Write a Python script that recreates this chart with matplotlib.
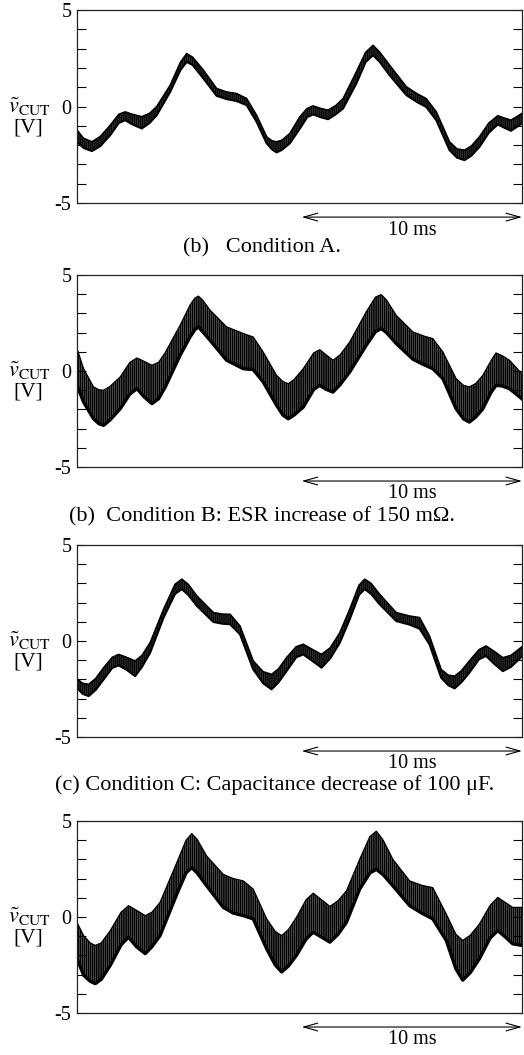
import matplotlib
matplotlib.use("Agg")
import matplotlib.pyplot as plt

plt.rcParams['font.family'] = ['Liberation Serif', 'DejaVu Serif']
plt.rcParams['mathtext.fontset'] = 'stix'

# ---------------- data (time in ms, voltage in V; upper / lower ripple envelope) ----------------
tA = [0.00, 0.30, 0.68, 1.06, 1.51, 1.90, 2.19, 2.50, 2.94, 3.30, 3.62, 4.23, 4.70, 4.98, 5.25,
      5.74, 6.34, 6.80, 7.25, 7.70, 8.15, 8.61, 8.85, 9.06, 9.30, 9.66, 10.12, 10.45, 10.72, 11.05,
      11.40, 11.75, 12.08, 12.68, 13.10, 13.44, 13.75, 14.19, 14.95, 15.45, 15.85, 16.31, 16.91,
      17.25, 17.59, 17.90, 18.27, 18.70, 19.10, 19.40, 19.70, 20.20]
upA = [-1.22, -1.65, -1.83, -1.55, -0.97, -0.40, -0.28, -0.40, -0.53, -0.35, 0.00, 1.10, 2.30, 2.74,
       2.55, 1.88, 0.93, 0.75, 0.67, 0.41, -0.45, -1.57, -1.78, -1.83, -1.75, -1.40, -0.53, -0.10,
       0.03, -0.10, -0.19, 0.05, 0.41, 1.79, 2.80, 3.17, 2.80, 2.14, 1.02, 0.65, 0.41, -0.28, -1.83,
       -2.20, -2.26, -2.05, -1.57, -0.85, -0.48, -0.60, -0.71, -0.36]
loA = [-1.83, -2.15, -2.31, -2.05, -1.48, -0.85, -0.71, -0.92, -1.14, -0.85, -0.45, 0.76, 1.90, 2.31,
       2.15, 1.45, 0.55, 0.38, 0.28, 0.07, -0.79, -1.91, -2.22, -2.38, -2.25, -1.91, -1.14, -0.55,
       -0.41, -0.55, -0.66, -0.40, -0.10, 1.19, 2.30, 2.66, 2.30, 1.62, 0.59, 0.22, -0.02, -0.71,
       -2.26, -2.65, -2.78, -2.55, -2.09, -1.35, -0.93, -1.10, -1.26, -0.88]

tB = [0.00, 0.30, 0.75, 1.00, 1.21, 1.50, 1.96, 2.40, 2.72, 3.05, 3.40, 3.70, 4.00, 4.68, 5.13,
      5.35, 5.51, 5.70, 6.04, 6.79, 7.55, 8.00, 8.45, 9.06, 9.35, 9.59, 9.85, 10.27, 10.75, 11.02,
      11.30, 11.62, 11.95, 12.38, 13.13, 13.55, 13.81, 14.05, 14.49, 15.25, 15.80, 16.15, 16.61,
      17.21, 17.55, 17.81, 18.10, 18.42, 18.80, 19.02, 19.30, 19.63, 20.20]
upB = [1.17, 0.12, -0.83, -0.98, -1.00, -0.80, -0.31, 0.45, 0.68, 0.50, 0.30, 0.45, 0.95, 2.38, 3.43,
       3.80, 3.90, 3.70, 3.17, 2.30, 1.95, 1.77, 0.99, -0.23, -0.55, -0.66, -0.45, 0.12, 0.95, 1.11,
       0.85, 0.56, 0.85, 1.51, 3.08, 3.85, 3.98, 3.70, 2.90, 2.03, 1.80, 1.69, 0.99, -0.40, -0.75,
       -0.83, -0.65, -0.23, 0.55, 0.94, 0.80, 0.56, -0.15]
loB = [-0.75, -1.62, -2.49, -2.75, -2.83, -2.55, -1.97, -1.20, -0.92, -1.35, -1.70, -1.45, -0.85,
       0.82, 1.77, 2.15, 2.30, 2.05, 1.60, 0.56, 0.12, 0.07, -0.57, -1.79, -2.30, -2.49, -2.30, -1.88,
       -0.95, -0.75, -0.95, -1.10, -0.70, -0.05, 1.34, 2.05, 2.21, 2.00, 1.43, 0.61, 0.30, 0.12, -0.40,
       -1.97, -2.50, -2.66, -2.40, -1.97, -1.10, -0.75, -0.78, -0.92, -1.45]

tC = [0.00, 0.25, 0.53, 0.85, 1.21, 1.60, 1.89, 2.25, 2.64, 2.95, 3.32, 3.93, 4.45, 4.76, 5.05,
      5.44, 6.19, 6.60, 6.95, 7.40, 8.00, 8.45, 8.83, 9.15, 9.51, 9.95, 10.27, 10.70, 11.10, 11.50,
      11.93, 12.38, 12.80, 13.06, 13.35, 13.74, 14.49, 15.10, 15.55, 16.00, 16.53, 16.85, 17.14,
      17.45, 17.81, 18.25, 18.57, 18.95, 19.33, 19.70, 20.20]
upC = [-1.97, -2.20, -2.26, -1.95, -1.39, -0.85, -0.70, -0.85, -1.04, -0.75, -0.09, 1.65, 2.95, 3.22,
       2.95, 2.35, 1.48, 1.40, 1.39, 0.78, -1.04, -1.60, -1.74, -1.45, -0.87, -0.30, -0.17, -0.45,
       -0.70, -0.35, 0.43, 1.65, 2.90, 3.22, 3.00, 2.43, 1.48, 1.30, 1.22, 0.26, -1.48, -1.78, -1.83,
       -1.55, -1.04, -0.45, -0.26, -0.55, -0.87, -0.75, -0.30]
loC = [-2.43, -2.75, -2.87, -2.55, -2.00, -1.40, -1.27, -1.50, -1.83, -1.35, -0.61, 1.22, 2.45, 2.70,
       2.40, 1.83, 0.99, 0.90, 0.87, 0.35, -1.48, -2.20, -2.52, -2.15, -1.57, -0.85, -0.70, -1.05,
       -1.39, -0.90, -0.09, 1.13, 2.40, 2.70, 2.45, 1.91, 1.04, 0.85, 0.64, -0.17, -1.91, -2.30, -2.47,
       -2.15, -1.65, -0.95, -0.78, -1.20, -1.57, -1.35, -0.80]

tD = [0.00, 0.30, 0.60, 0.83, 1.10, 1.51, 2.00, 2.34, 2.70, 3.10, 3.40, 3.77, 4.53, 4.95, 5.21,
      5.45, 5.89, 6.64, 7.10, 7.55, 8.00, 8.61, 9.00, 9.29, 9.60, 9.96, 10.40, 10.72, 11.10, 11.48,
      11.85, 12.23, 12.83, 13.30, 13.59, 13.90, 14.34, 15.10, 15.65, 16.15, 16.76, 17.20, 17.51,
      17.85, 18.27, 18.75, 19.10, 19.45, 19.78, 20.20]
upD = [-0.28, -0.97, -1.35, -1.48, -1.35, -0.71, 0.25, 0.59, 0.35, 0.07, 0.25, 0.76, 2.83, 4.00, 4.34,
       4.05, 3.17, 2.22, 2.00, 1.88, 1.45, -0.10, -0.75, -0.97, -0.65, -0.02, 0.90, 1.24, 0.90, 0.55,
       0.85, 1.36, 3.00, 4.20, 4.47, 4.00, 3.00, 1.88, 1.65, 1.53, 0.16, -0.90, -1.22, -0.95, -0.36,
       0.60, 1.02, 0.75, 0.50, 0.50]
loD = [-2.17, -3.03, -3.35, -3.47, -3.25, -2.52, -1.45, -1.05, -1.55, -1.91, -1.55, -0.97, 1.19, 2.30,
       2.57, 2.30, 1.62, 0.50, 0.20, 0.07, -0.10, -1.66, -2.50, -2.86, -2.55, -2.00, -1.15, -0.79,
       -1.05, -1.31, -0.90, -0.28, 1.45, 2.30, 2.48, 2.20, 1.62, 0.59, 0.20, -0.10, -1.22, -2.70, -3.29,
       -2.90, -2.17, -1.10, -0.71, -1.05, -1.40, -1.48]

ytick_vals = [-5, 0, 5]
ytick_labels = ['-5', '0', '5']
captions = ['(b)   Condition A.',
            '(b)  Condition B: ESR increase of 150 m\u03a9.',
            '(c) Condition C: Capacitance decrease of 100 \u03bcF.',
            None]
scale_label = '10 ms'
scale_start, scale_end = 10.2, 20.2

series = [(tA, upA, loA, False), (tB, upB, loB, True), (tC, upC, loC, False), (tD, upD, loD, True)]

# ---------------- layout ----------------
W, H = 524, 1055
fig = plt.figure(figsize=(W / 100, H / 100), dpi=100)
tops = [10, 275, 545, 821]
bottoms = [203, 467, 737, 1013]
caption_y = [248, 517, 785, None]
caption_x = [262, 262, 275, None]
left_px, right_px = 77, 522

for i, (t, up, lo, wide) in enumerate(series):
    ax = fig.add_axes([left_px / W, 1 - bottoms[i] / H, (right_px - left_px) / W,
                       (bottoms[i] - tops[i]) / H])
    plt.rcParams['hatch.linewidth'] = 1.3 if wide else 0.8
    ax.fill_between(t, lo, up, facecolor='white' if wide else '#333333',
                    edgecolor='black', hatch='|' * 8, linewidth=0)
    ax.plot(t, up, color='black', lw=0.9 if wide else 1.2)
    ax.plot(t, lo, color='black', lw=2.4 if wide else 1.5)
    ax.set_xlim(0, 20.2)
    ax.set_ylim(-5, 5)
    ax.set_xticks([])
    ax.set_yticks(ytick_vals)
    ax.set_yticklabels(ytick_labels, fontsize=14.5)
    ax.set_yticks(range(-4, 5), minor=True)
    ax.tick_params(axis='y', which='both', direction='in', length=6.5, width=0.8,
                   left=True, right=True, pad=4)
    for s in ax.spines.values():
        s.set_linewidth(0.9)
        s.set_color('#222222')
    # scale arrow
    ax.annotate('', xy=(scale_start, -0.073), xytext=(scale_end, -0.073),
                xycoords=ax.get_xaxis_transform(), textcoords=ax.get_xaxis_transform(),
                arrowprops=dict(arrowstyle='<->,head_length=1.0,head_width=0.28', lw=0.8,
                                color='black', shrinkA=0, shrinkB=0),
                annotation_clip=False)
    ax.text((scale_start + scale_end) / 2, -0.14, scale_label, transform=ax.get_xaxis_transform(),
            ha='center', va='center', fontsize=14.5)
    # y label
    ymid = (tops[i] + bottoms[i]) / 2
    fig.text(29 / W, 1 - (ymid + 0) / H, r'$\tilde{v}_{\mathrm{CUT}}$', ha='center',
             va='center', fontsize=16)
    fig.text(28 / W, 1 - (ymid + 21) / H, '[V]', ha='center', va='center', fontsize=15.5)
    if captions[i]:
        fig.text(caption_x[i] / W, 1 - caption_y[i] / H, captions[i], ha='center',
                 va='center', fontsize=16)

fig.savefig('out.png', dpi=100)
